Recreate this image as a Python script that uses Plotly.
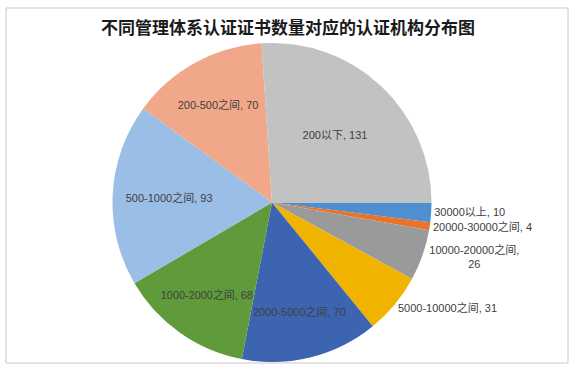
import plotly.graph_objects as go

categories = ["30000以上", "20000-30000之间", "10000-20000之间", "5000-10000之间",
              "2000-5000之间", "1000-2000之间", "500-1000之间", "200-500之间", "200以下"]
values = [10, 4, 26, 31, 70, 68, 93, 70, 131]
colors = ["#4F8FD0", "#E8732A", "#9A9A9A", "#F0B400", "#3C64B0",
          "#5F9B3B", "#9BBEE6", "#F1A88A", "#C2C2C2"]
positions = ["outside", "outside", "outside", "outside",
             "inside", "inside", "inside", "inside", "inside"]
templates = ["%{label}, %{value}", "%{label}, %{value}", "%{label},<br>%{value}",
             "%{label}, %{value}", "%{label}, %{value}", "%{label}, %{value}",
             "%{label}, %{value}", "%{label}, %{value}", "%{label}, %{value}"]
title = "不同管理体系认证证书数量对应的认证机构分布图"

W, H = 576, 370
mt, mb = 43, 8
ph = H - mt - mb
cx = 272
x0 = (cx - ph / 2) / W
x1 = (cx + ph / 2) / W

fig = go.Figure(go.Pie(
    labels=categories,
    values=values,
    sort=False,
    direction="clockwise",
    rotation=90,
    marker=dict(colors=colors, line=dict(width=0)),
    texttemplate=templates,
    textposition=positions,
    insidetextorientation="horizontal",
    textfont=dict(family="Liberation Sans, Noto Sans CJK SC", size=11, color="#404040"),
    domain=dict(x=[x0, x1], y=[0, 1]),
    hoverinfo="label+value",
    showlegend=False,
))

def py(v):
    return (H - mb - v) / ph

fig.update_layout(
    width=W, height=H,
    margin=dict(l=0, r=0, t=mt, b=mb),
    paper_bgcolor="white",
    plot_bgcolor="white",
    title=dict(text="<b>" + title + "</b>", x=0.5, xanchor="center",
               y=1 - 28 / H, yanchor="middle",
               font=dict(family="Noto Sans CJK SC", size=17, color="#1a1a1a")),
    shapes=[dict(type="rect", xref="paper", yref="paper",
                 x0=6 / W, x1=568 / W, y0=py(363), y1=py(8),
                 line=dict(color="#C8C8C8", width=1), layer="below")],
)

fig.write_html("out.html", config={"displayModeBar": False},
               post_script="document.body.style.margin='0';")
